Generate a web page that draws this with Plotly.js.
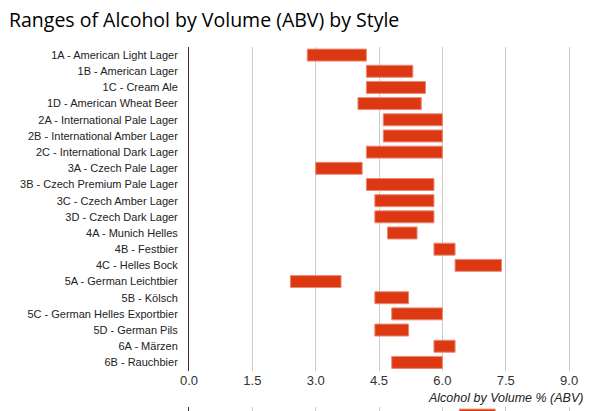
<!DOCTYPE html>
<html>
<head>
<meta charset="utf-8">
<script src="https://cdn.plot.ly/plotly-3.0.1.min.js"></script>
<style>
  html, body { margin: 0; padding: 0; background: #fff; overflow: hidden; }
  #chart { width: 597px; height: 411px; }
</style>
</head>
<body>
<div id="chart"></div>
<script>
// ---- data ----
const styles = [
  "1A - American Light Lager",
  "1B - American Lager",
  "1C - Cream Ale",
  "1D - American Wheat Beer",
  "2A - International Pale Lager",
  "2B - International Amber Lager",
  "2C - International Dark Lager",
  "3A - Czech Pale Lager",
  "3B - Czech Premium Pale Lager",
  "3C - Czech Amber Lager",
  "3D - Czech Dark Lager",
  "4A - Munich Helles",
  "4B - Festbier",
  "4C - Helles Bock",
  "5A - German Leichtbier",
  "5B - Kölsch",
  "5C - German Helles Exportbier",
  "5D - German Pils",
  "6A - Märzen",
  "6B - Rauchbier"
];
const abvMin = [2.8, 4.2, 4.2, 4.0, 4.6, 4.6, 4.2, 3.0, 4.2, 4.4, 4.4, 4.7, 5.8, 6.3, 2.4, 4.4, 4.8, 4.4, 5.8, 4.8];
const abvMax = [4.2, 5.3, 5.6, 5.5, 6.0, 6.0, 6.0, 4.1, 5.8, 5.8, 5.8, 5.4, 6.3, 7.4, 3.6, 5.2, 6.0, 5.2, 6.3, 6.0];
const xTickVals = [0, 1.5, 3.0, 4.5, 6.0, 7.5, 9.0];
const xTickText = ["0.0", "1.5", "3.0", "4.5", "6.0", "7.5", "9.0"];

// next chart on the page (only its top edge is visible)
const nextStyles = ["1A - American Light Lager"];
const nextMin = [6.4];
const nextMax = [7.25];

const titleText = "Ranges of Alcohol by Volume (ABV) by Style";
const xTitleText = "Alcohol by Volume % (ABV)";

// ---- layout geometry ----
const W = 597, H = 411, T = 47, B = 0;
const plotH = H - T - B;
const mainBottomPx = 370.5;
const nextTopPx = 407;
const rowPx = (mainBottomPx - T) / styles.length;

const barColor = "#DC3912";
const barLine = "#ea8b74";
const labelFont = "Arial, 'Liberation Sans', sans-serif";

const traces = [
  {
    type: "bar",
    orientation: "h",
    y: styles,
    base: abvMin,
    x: abvMax.map((v, i) => +(v - abvMin[i]).toFixed(2)),
    marker: { color: barColor, line: { color: barLine, width: 1 } },
    xaxis: "x", yaxis: "y",
    hoverinfo: "skip"
  },
  {
    type: "bar",
    orientation: "h",
    y: nextStyles,
    base: nextMin,
    x: nextMax.map((v, i) => +(v - nextMin[i]).toFixed(2)),
    marker: { color: barColor, line: { color: barLine, width: 1 } },
    xaxis: "x2", yaxis: "y2",
    hoverinfo: "skip"
  }
];

const nextH = H - nextTopPx;
const layout = {
  width: W, height: H,
  margin: { l: 189, r: 11, t: T, b: B, pad: 0 },
  paper_bgcolor: "#fff",
  plot_bgcolor: "#fff",
  showlegend: false,
  bargap: 0.26,
  title: {
    text: titleText,
    font: { family: "'Open Sans', sans-serif", size: 19.5, color: "#000" },
    xref: "container", x: 9 / W, xanchor: "left",
    yref: "container", y: 1 - 20 / H, yanchor: "middle"
  },
  xaxis: {
    range: [0, 9.4],
    tickvals: xTickVals, ticktext: xTickText,
    showgrid: true, gridcolor: "#cccccc", gridwidth: 1,
    zeroline: false, showline: false, ticks: "",
    ticklabelstandoff: 0,
    tickfont: { family: labelFont, size: 13, color: "#333" },
    anchor: "y", fixedrange: true
  },
  yaxis: {
    type: "category",
    autorange: "reversed",
    domain: [(H - mainBottomPx) / plotH, 1],
    showgrid: false, zeroline: false,
    showline: true, linecolor: "#333", linewidth: 1,
    ticks: "", ticklabelstandoff: 8,
    tickfont: { family: labelFont, size: 11, color: "#222" },
    anchor: "x", fixedrange: true
  },
  xaxis2: {
    range: [0, 9.4],
    tickvals: xTickVals,
    showticklabels: false,
    showgrid: true, gridcolor: "#cccccc", gridwidth: 1,
    zeroline: false, showline: false, ticks: "",
    anchor: "y2", fixedrange: true
  },
  yaxis2: {
    type: "category",
    domain: [0, nextH / plotH],
    range: [-0.5 + nextH / rowPx, -0.5],
    showticklabels: false,
    showgrid: false, zeroline: false,
    showline: true, linecolor: "#333", linewidth: 1,
    ticks: "",
    anchor: "x2", fixedrange: true
  },
  annotations: [
    {
      text: xTitleText,
      xref: "paper", x: 1, xanchor: "right", xshift: -1,
      yref: "paper", y: (H - 398) / plotH, yanchor: "middle",
      showarrow: false,
      font: { family: labelFont, size: 12.5, color: "#222", style: "italic" }
    }
  ]
};

Plotly.newPlot("chart", traces, layout, { staticPlot: true, displayModeBar: false });
</script>
</body>
</html>
